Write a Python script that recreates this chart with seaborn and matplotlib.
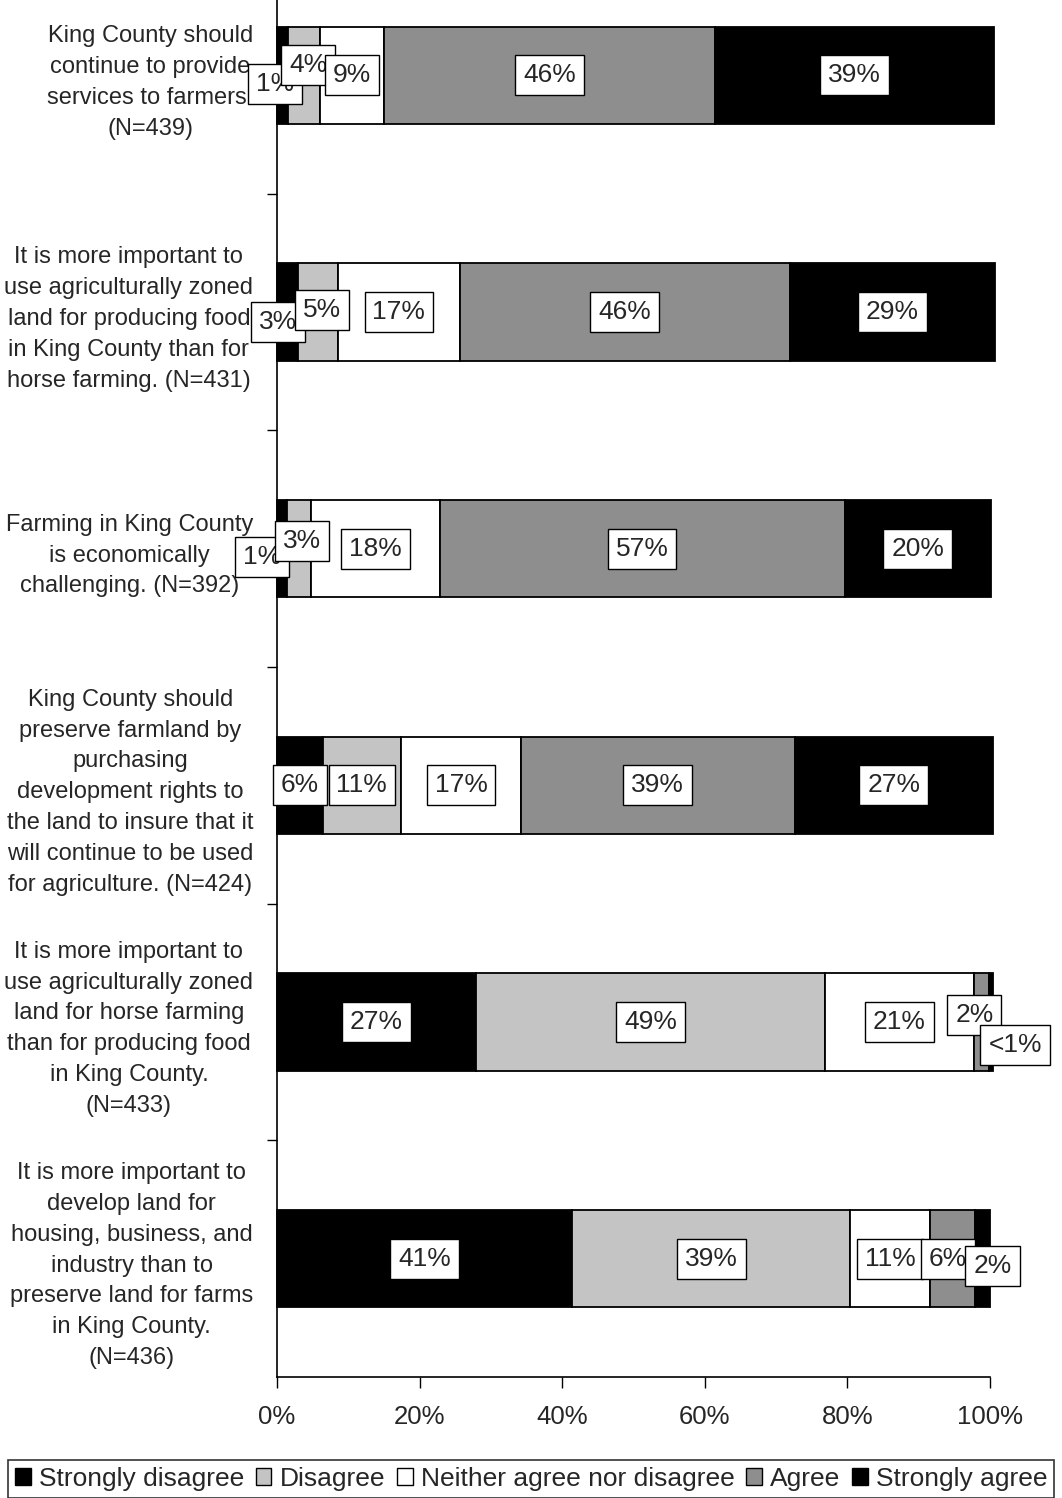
import numpy as np
import pandas as pd
import matplotlib
matplotlib.use("Agg")
import matplotlib.pyplot as plt
import seaborn as sns
from matplotlib.patches import Patch

# ---------------- data ----------------
statements = [
    "King County should\ncontinue to provide\nservices to farmers.\n(N=439)",
    "It is more important to\nuse agriculturally zoned\nland for producing food\nin King County than for\nhorse farming. (N=431)",
    "Farming in King County\nis economically\nchallenging. (N=392)",
    "King County should\npreserve farmland by\npurchasing\ndevelopment rights to\nthe land to insure that it\nwill continue to be used\nfor agriculture. (N=424)",
    "It is more important to\nuse agriculturally zoned\nland for horse farming\nthan for producing food\nin King County.\n(N=433)",
    "It is more important to\ndevelop land for\nhousing, business, and\nindustry than to\npreserve land for farms\nin King County.\n(N=436)",
]
responses = ["Strongly disagree", "Disagree", "Neither agree nor disagree",
             "Agree", "Strongly agree"]

# bar widths (percent)
strongly_disagree = [1.6, 3.0, 1.4, 6.4, 27.9, 41.4]
disagree = [4.4, 5.6, 3.4, 11.0, 49.0, 39.0]
neither = [9.0, 17.0, 18.0, 16.8, 20.8, 11.2]
agree = [46.4, 46.3, 56.8, 38.4, 2.2, 6.3]
strongly_agree = [39.1, 28.8, 20.5, 27.8, 0.5, 2.1]

# printed labels
lab_sd = ["1%", "3%", "1%", "6%", "27%", "41%"]
lab_d = ["4%", "5%", "3%", "11%", "49%", "39%"]
lab_n = ["9%", "17%", "18%", "17%", "21%", "11%"]
lab_a = ["46%", "46%", "57%", "39%", "2%", "6%"]
lab_sa = ["39%", "29%", "20%", "27%", "<1%", "2%"]

x_ticks = [0, 20, 40, 60, 80, 100]
x_tick_labels = ["0%", "20%", "40%", "60%", "80%", "100%"]

# ---------------- style ----------------
sns.set_theme(style="white")
plt.rcParams["font.family"] = ["Liberation Sans", "DejaVu Sans"]

colors = ["#000000", "#c4c4c4", "#ffffff", "#8e8e8e", "#000000"]

fig = plt.figure(figsize=(10.62, 14.98), dpi=100)
ax = fig.add_axes([277 / 1062, 1 - 1377 / 1498, (990 - 277) / 1062, (1377 + 43) / 1498])

series = [strongly_disagree, disagree, neither, agree, strongly_agree]
labels = [lab_sd, lab_d, lab_n, lab_a, lab_sa]

left = np.zeros(len(statements))
centers = []
for vals, col in zip(series, colors):
    df = pd.DataFrame({"statement": statements, "value": vals})
    sns.barplot(data=df, y="statement", x="value", order=statements,
                orient="h", left=left.copy(), color=col, saturation=1,
                edgecolor="black", linewidth=1.3, width=0.41, ax=ax,
                clip_on=False, zorder=2)
    centers.append(left + np.array(vals) / 2)
    left = left + np.array(vals)

# label offsets in pixels (dx, dy) for crowded small segments
offsets = {
    (0, 0): (-8, -9), (0, 1): (4, 10),
    (1, 0): (-10, -10), (1, 1): (4, 2),
    (2, 0): (-20, -8), (2, 1): (3, 8),
    (4, 3): (-7, 7), (4, 4): (24, -23),
    (5, 3): (-5, 0), (5, 4): (10, -7),
}

for s_idx in range(len(series)):
    for r in range(len(statements)):
        dx, dy = offsets.get((r, s_idx), (0, 0))
        ax.annotate(labels[s_idx][r], xy=(centers[s_idx][r], r),
                    xytext=(dx, dy), textcoords="offset pixels",
                    ha="center", va="center", fontsize=19,
                    annotation_clip=False, zorder=5,
                    bbox=dict(boxstyle="square,pad=0.3", fc="white",
                              ec="black", lw=1.0))

ax.set_xlim(0, 100)
ax.set_ylim(len(statements) - 0.5, -0.5)
ax.set_xticks(x_ticks)
ax.set_xticklabels(x_tick_labels, fontsize=18.5)
ax.set_xlabel("")
ax.set_ylabel("")
ax.set_yticks(range(len(statements)))
ax.set_yticklabels(statements, fontsize=17, ha="right", multialignment="center",
                   linespacing=1.52)
for t in ax.get_yticklabels():
    t.set_y(t.get_position()[1])
ax.set_yticks(np.arange(0.5, len(statements) - 0.5, 1), minor=True)
ax.tick_params(axis="y", which="major", length=0, pad=17)
ax.tick_params(axis="y", which="minor", length=7, width=1, color="black", direction="out", left=True)
ax.tick_params(axis="x", which="major", length=8, width=1, color="black", direction="out", bottom=True, pad=12)
for side in ["top", "right"]:
    ax.spines[side].set_visible(False)
for side in ["left", "bottom"]:
    ax.spines[side].set_color("black")
    ax.spines[side].set_linewidth(1.2)
ax.grid(False)
ax.set_facecolor("white")

handles = [Patch(facecolor=c, edgecolor="black", linewidth=1) for c in colors]
leg = fig.legend(handles, responses, loc="center", bbox_to_anchor=(0.5, 1 - 1479 / 1498),
                 ncol=5, fontsize=19, frameon=True, fancybox=False,
                 handlelength=0.6, handleheight=0.6, handletextpad=0.3,
                 columnspacing=0.45, borderpad=0.25, borderaxespad=0)
leg.get_frame().set_edgecolor("black")
leg.get_frame().set_linewidth(1.2)

fig.savefig("out.png", dpi=100, facecolor="white")
